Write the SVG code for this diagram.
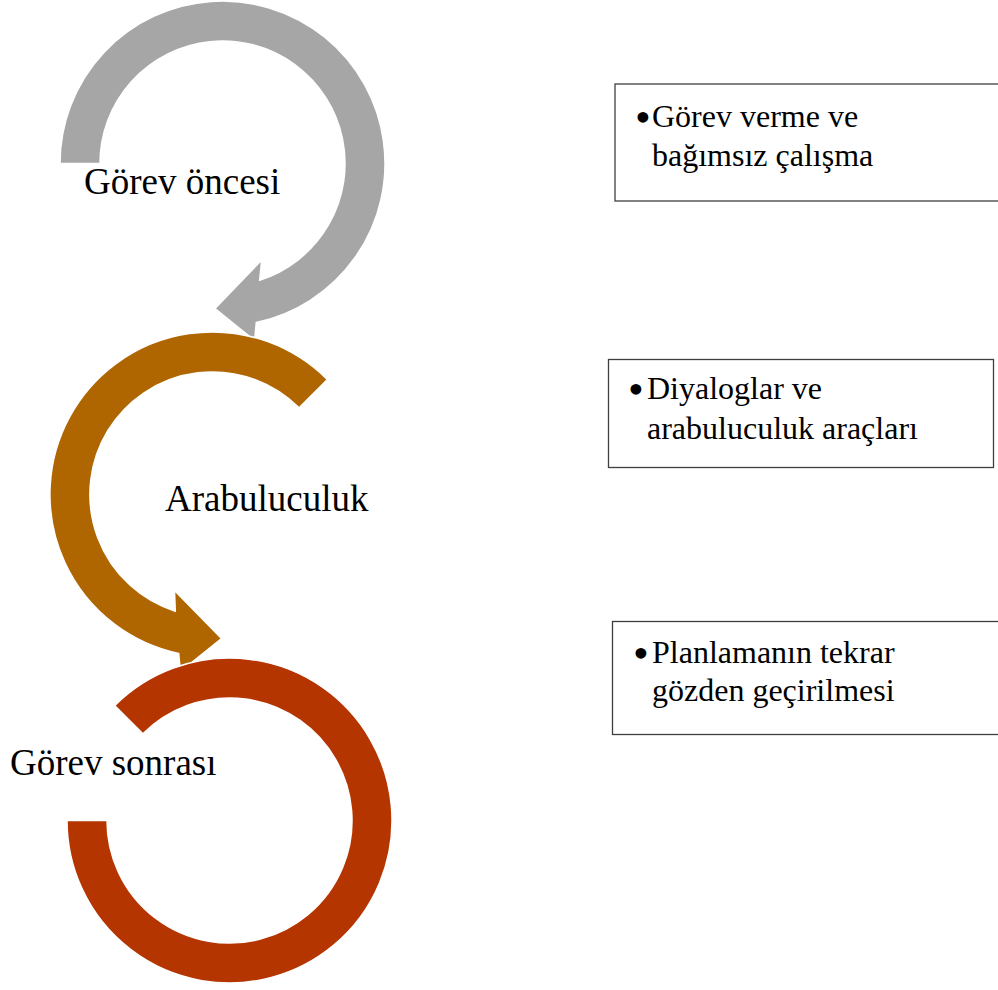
<svg xmlns="http://www.w3.org/2000/svg" width="998" height="990" viewBox="0 0 998 990">
  <style>
    .band { stroke: #ffffff; stroke-width: 1.5; stroke-linejoin: miter; }
    .stage { font-family: "Liberation Serif", "Times New Roman", serif; font-size: 37px; fill: #000000; }
    .note-box { fill: #ffffff; stroke: #3f3f3f; stroke-width: 1.3; }
    .note { font-family: "Liberation Serif", "Times New Roman", serif; font-size: 32px; fill: #000000; }
    .bullet { font-family: "Liberation Serif", "Times New Roman", serif; font-size: 45px; fill: #000000; }
  </style>
  <rect width="998" height="990" fill="#ffffff"/>

  <!-- Stage 1: grey clockwise arrow -->
  <g id="stage-pre">
    <path class="band" fill="#a6a6a6"
          d="M 60 163.5 A 162.5 162.5 0 1 1 256.3 322.5 L 254.6 340.5 L 215 308.5 L 261.7 260 L 259.7 280.2 A 122.5 122.5 0 1 0 100 163.5 Z"/>
    <text class="stage" x="84" y="194">Görev öncesi</text>
  </g>

  <!-- Stage 2: brown counter-clockwise arrow -->
  <g id="stage-mediation">
    <path class="band" fill="#af6600"
          d="M 327.4 379.6 A 162.5 162.5 0 1 0 178.7 653.4 L 180.4 671.6 L 221.5 638.5 L 174.5 590.5 L 175.3 611.2 A 122.5 122.5 0 1 1 299.1 407.9 Z"/>
    <text class="stage" x="165" y="511">Arabuluculuk</text>
  </g>

  <!-- Stage 3: red open ring -->
  <g id="stage-post">
    <path class="band" fill="#b53500"
          d="M 67 820.5 A 162.5 162.5 0 1 0 114.6 705.6 L 142.9 733.9 A 122.5 122.5 0 1 1 107 820.5 Z"/>
    <text class="stage" x="10" y="775">Görev sonrası</text>
  </g>

  <!-- Note boxes -->
  <g id="note-pre">
    <rect class="note-box" x="615" y="84" width="400" height="117"/>
    <text class="bullet" x="635" y="131.5">•</text>
    <text class="note" x="652" y="127">Görev verme ve</text>
    <text class="note" x="652" y="166">bağımsız çalışma</text>
  </g>

  <g id="note-mediation">
    <rect class="note-box" x="608.5" y="359.5" width="385" height="108"/>
    <text class="bullet" x="628" y="403.5">•</text>
    <text class="note" x="647" y="399">Diyaloglar ve</text>
    <text class="note" x="647" y="439">arabuluculuk araçları</text>
  </g>

  <g id="note-post">
    <rect class="note-box" x="612.5" y="621.5" width="400" height="113"/>
    <text class="bullet" x="633" y="667.5">•</text>
    <text class="note" x="652" y="663">Planlamanın tekrar</text>
    <text class="note" x="652" y="701">gözden geçirilmesi</text>
  </g>
</svg>
